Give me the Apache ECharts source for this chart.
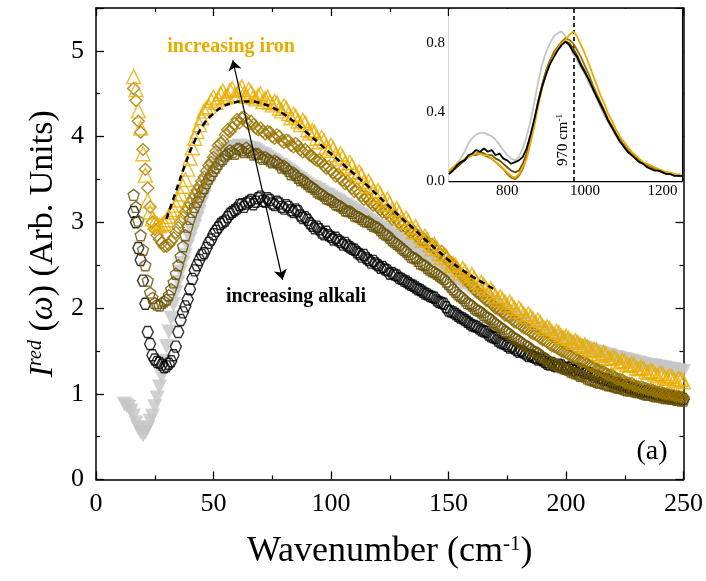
<!DOCTYPE html>
<html>
<head>
<meta charset="utf-8">
<script src="https://cdn.jsdelivr.net/npm/echarts@6.0.0/dist/echarts.min.js"></script>
<style>
  html, body { margin: 0; padding: 0; background: #fff; }
  #chart { width: 706px; height: 581px; }
</style>
</head>
<body>
<div id="chart"></div>
<script>
// Reduced Raman intensity vs wavenumber (cm-1).
// Spectra are sampled on even and odd wavenumbers; each value list follows its wavenumber list.
const wavenumber = [
  12, 14, 16, 18, 20, 22, 24, 26, 28, 30,
  32, 34, 36, 38, 40, 42, 44, 46, 48, 50,
  52, 54, 56, 58, 60, 62, 64, 66, 68, 70,
  72, 74, 76, 78, 80, 82, 84, 86, 88, 90,
  92, 94, 96, 98, 100, 102, 104, 106, 108, 110,
  112, 114, 116, 118, 120, 122, 124, 126, 128, 130,
  132, 134, 136, 138, 140, 142, 144, 146, 148, 150,
  152, 154, 156, 158, 160, 162, 164, 166, 168, 170,
  172, 174, 176, 178, 180, 182, 184, 186, 188, 190,
  192, 194, 196, 198, 200, 202, 204, 206, 208, 210,
  212, 214, 216, 218, 220, 222, 224, 226, 228, 230,
  232, 234, 236, 238, 240, 242, 244, 246, 248, 250
];
const wavenumberOdd = [
  13, 15, 17, 19, 21, 23, 25, 27, 29, 31,
  33, 35, 37, 39, 41, 43, 45, 47, 49, 51,
  53, 55, 57, 59, 61, 63, 65, 67, 69, 71,
  73, 75, 77, 79, 81, 83, 85, 87, 89, 91,
  93, 95, 97, 99, 101, 103, 105, 107, 109, 111,
  113, 115, 117, 119, 121, 123, 125, 127, 129, 131,
  133, 135, 137, 139, 141, 143, 145, 147, 149, 151,
  153, 155, 157, 159, 161, 163, 165, 167, 169, 171,
  173, 175, 177, 179, 181, 183, 185, 187, 189, 191,
  193, 195, 197, 199, 201, 203, 205, 207, 209, 211,
  213, 215, 217, 219, 221, 223, 225, 227, 229, 231,
  233, 235, 237, 239, 241, 243, 245, 247, 249
];

// grey reference glass (filled down-triangles)
const greyGlass = [
  0.88, 0.84, 0.74, 0.60, 0.52, 0.60, 0.74, 0.95, 1.20, 1.55,
  1.88, 2.18, 2.42, 2.62, 2.80, 2.95, 3.12, 3.30, 3.48, 3.63,
  3.73, 3.80, 3.84, 3.86, 3.88, 3.88, 3.87, 3.86, 3.84, 3.80,
  3.78, 3.74, 3.71, 3.67, 3.64, 3.60, 3.56, 3.52, 3.48, 3.44,
  3.41, 3.38, 3.35, 3.32, 3.29, 3.26, 3.23, 3.20, 3.16, 3.13,
  3.09, 3.06, 3.02, 2.98, 2.95, 2.91, 2.88, 2.84, 2.81, 2.78,
  2.74, 2.71, 2.67, 2.64, 2.60, 2.57, 2.53, 2.50, 2.46, 2.43,
  2.37, 2.33, 2.29, 2.26, 2.22, 2.18, 2.14, 2.10, 2.07, 2.03,
  2.00, 1.96, 1.93, 1.90, 1.86, 1.83, 1.80, 1.77, 1.74, 1.71,
  1.70, 1.67, 1.65, 1.62, 1.60, 1.58, 1.56, 1.54, 1.53, 1.51,
  1.49, 1.48, 1.46, 1.45, 1.43, 1.42, 1.40, 1.39, 1.38, 1.36,
  1.35, 1.34, 1.33, 1.32, 1.31, 1.30, 1.29, 1.28, 1.27, 1.26
];
const greyGlassOdd = [
  0.86, 0.80, 0.66, 0.55, 0.55, 0.68, 0.85, 1.08, 1.38, 1.72,
  2.04, 2.30, 2.52, 2.72, 2.88, 3.04, 3.22, 3.40, 3.56, 3.68,
  3.77, 3.82, 3.85, 3.87, 3.89, 3.88, 3.86, 3.85, 3.82, 3.79,
  3.76, 3.72, 3.69, 3.66, 3.62, 3.58, 3.54, 3.50, 3.46, 3.42,
  3.40, 3.37, 3.33, 3.31, 3.27, 3.25, 3.21, 3.18, 3.15, 3.11,
  3.08, 3.04, 3.00, 2.97, 2.93, 2.90, 2.86, 2.83, 2.79, 2.76,
  2.73, 2.69, 2.66, 2.62, 2.59, 2.55, 2.52, 2.48, 2.45, 2.40,
  2.35, 2.31, 2.28, 2.24, 2.20, 2.16, 2.12, 2.09, 2.05, 2.02,
  1.98, 1.95, 1.91, 1.88, 1.85, 1.82, 1.78, 1.76, 1.73, 1.70,
  1.68, 1.66, 1.64, 1.61, 1.59, 1.57, 1.55, 1.54, 1.52, 1.50,
  1.48, 1.47, 1.45, 1.44, 1.42, 1.41, 1.40, 1.38, 1.37, 1.36,
  1.34, 1.33, 1.32, 1.31, 1.30, 1.29, 1.28, 1.27, 1.26
];

// highest alkali content (open hexagons)
const alkaliHex = [
  null, null, 3.12, 2.70, 2.32, 1.72, 1.45, 1.37, 1.34, 1.32,
  1.38, 1.55, 1.86, 2.02, 2.22, 2.44, 2.56, 2.64, 2.76, 2.86,
  2.94, 3.00, 3.06, 3.12, 3.16, 3.21, 3.22, 3.26, 3.24, 3.30,
  3.24, 3.26, 3.20, 3.22, 3.16, 3.18, 3.12, 3.13, 3.05, 3.03,
  2.96, 2.95, 2.88, 2.89, 2.83, 2.82, 2.77, 2.76, 2.71, 2.68,
  2.63, 2.62, 2.56, 2.55, 2.50, 2.48, 2.44, 2.41, 2.38, 2.34,
  2.31, 2.27, 2.24, 2.21, 2.17, 2.14, 2.12, 2.07, 2.05, 1.97,
  1.95, 1.91, 1.88, 1.84, 1.80, 1.78, 1.74, 1.72, 1.67, 1.65,
  1.60, 1.58, 1.54, 1.53, 1.49, 1.48, 1.44, 1.43, 1.40, 1.39,
  1.35, 1.36, 1.32, 1.33, 1.29, 1.31, 1.27, 1.28, 1.24, 1.24,
  1.20, 1.19, 1.16, 1.16, 1.12, 1.12, 1.09, 1.08, 1.06, 1.05,
  1.03, 1.03, 1.01, 1.00, 0.99, 0.98, 0.97, 0.96, 0.95, 0.94
];
const alkaliHexOdd = [
  null, null, 3.00, 2.56, 2.05, 1.58, 1.40, 1.36, 1.31, 1.35,
  1.45, 1.72, 1.95, 2.10, 2.34, 2.50, 2.62, 2.70, 2.80, 2.90,
  2.98, 3.02, 3.10, 3.14, 3.20, 3.18, 3.24, 3.21, 3.28, 3.25,
  3.28, 3.22, 3.24, 3.18, 3.20, 3.14, 3.15, 3.08, 3.06, 2.99,
  2.93, 2.92, 2.86, 2.85, 2.80, 2.79, 2.74, 2.73, 2.69, 2.65,
  2.60, 2.58, 2.53, 2.52, 2.47, 2.45, 2.40, 2.39, 2.35, 2.32,
  2.29, 2.26, 2.22, 2.19, 2.16, 2.13, 2.09, 2.06, 2.01, 1.96,
  1.93, 1.89, 1.86, 1.82, 1.79, 1.76, 1.73, 1.69, 1.66, 1.62,
  1.59, 1.56, 1.55, 1.51, 1.50, 1.46, 1.45, 1.42, 1.41, 1.37,
  1.34, 1.33, 1.34, 1.30, 1.30, 1.28, 1.29, 1.26, 1.25, 1.22,
  1.21, 1.18, 1.17, 1.14, 1.13, 1.10, 1.10, 1.07, 1.06, 1.04,
  1.03, 1.02, 1.01, 0.99, 0.99, 0.97, 0.97, 0.96, 0.95
];

// low iron (open pentagons)
const ironLowPent = [
  null, null, 3.32, 3.02, 2.68, 2.32, 2.12, 2.04, 2.06, 2.10,
  2.22, 2.40, 2.60, 2.85, 3.04, 3.18, 3.30, 3.40, 3.51, 3.60,
  3.68, 3.74, 3.80, 3.82, 3.86, 3.84, 3.87, 3.82, 3.80, 3.76,
  3.76, 3.72, 3.72, 3.68, 3.66, 3.60, 3.58, 3.52, 3.50, 3.45,
  3.41, 3.36, 3.33, 3.28, 3.26, 3.21, 3.19, 3.14, 3.13, 3.08,
  3.06, 3.02, 3.01, 2.96, 2.94, 2.88, 2.85, 2.79, 2.75, 2.70,
  2.66, 2.60, 2.58, 2.52, 2.50, 2.45, 2.42, 2.38, 2.34, 2.28,
  2.22, 2.16, 2.12, 2.06, 2.03, 1.98, 1.95, 1.90, 1.87, 1.82,
  1.78, 1.73, 1.70, 1.65, 1.62, 1.58, 1.55, 1.50, 1.48, 1.43,
  1.40, 1.36, 1.34, 1.31, 1.29, 1.26, 1.24, 1.21, 1.20, 1.17,
  1.15, 1.13, 1.12, 1.10, 1.09, 1.07, 1.06, 1.04, 1.04, 1.02,
  1.01, 0.99, 0.99, 0.97, 0.97, 0.95, 0.95, 0.94, 0.93, 0.92
];
const ironLowPentOdd = [
  null, null, 3.18, 2.85, 2.50, 2.18, 2.06, 2.03, 2.08, 2.15,
  2.30, 2.50, 2.72, 2.95, 3.12, 3.24, 3.36, 3.46, 3.55, 3.64,
  3.72, 3.78, 3.84, 3.80, 3.86, 3.82, 3.84, 3.79, 3.80, 3.74,
  3.74, 3.70, 3.70, 3.64, 3.63, 3.56, 3.55, 3.49, 3.47, 3.42,
  3.39, 3.34, 3.31, 3.27, 3.24, 3.20, 3.17, 3.13, 3.11, 3.07,
  3.04, 3.01, 2.98, 2.95, 2.91, 2.86, 2.82, 2.77, 2.73, 2.68,
  2.63, 2.59, 2.55, 2.51, 2.47, 2.43, 2.40, 2.36, 2.31, 2.25,
  2.19, 2.14, 2.09, 2.05, 2.00, 1.97, 1.92, 1.89, 1.84, 1.80,
  1.76, 1.72, 1.67, 1.64, 1.60, 1.56, 1.52, 1.49, 1.45, 1.42,
  1.38, 1.35, 1.33, 1.30, 1.28, 1.25, 1.23, 1.21, 1.18, 1.16,
  1.14, 1.13, 1.11, 1.10, 1.08, 1.07, 1.05, 1.04, 1.03, 1.02,
  1.00, 0.99, 0.98, 0.97, 0.96, 0.95, 0.94, 0.93, 0.92
];

// medium iron (open diamonds)
const ironMidDiam = [
  null, null, 4.56, 4.18, 3.85, 3.40, 3.00, 2.85, 2.76, 2.72,
  2.78, 2.88, 3.00, 3.12, 3.22, 3.32, 3.42, 3.53, 3.66, 3.76,
  3.90, 3.95, 4.08, 4.10, 4.20, 4.22, 4.17, 4.18, 4.10, 4.10,
  4.03, 4.05, 3.98, 4.00, 3.93, 3.95, 3.88, 3.89, 3.82, 3.82,
  3.77, 3.72, 3.70, 3.63, 3.61, 3.54, 3.52, 3.45, 3.43, 3.36,
  3.34, 3.27, 3.26, 3.20, 3.18, 3.12, 3.11, 3.04, 3.03, 2.96,
  2.94, 2.88, 2.86, 2.80, 2.78, 2.72, 2.70, 2.64, 2.62, 2.55,
  2.50, 2.43, 2.38, 2.31, 2.26, 2.19, 2.15, 2.09, 2.06, 2.00,
  1.98, 1.92, 1.90, 1.84, 1.82, 1.77, 1.75, 1.70, 1.68, 1.63,
  1.61, 1.56, 1.54, 1.50, 1.48, 1.44, 1.42, 1.38, 1.37, 1.33,
  1.31, 1.28, 1.26, 1.22, 1.21, 1.17, 1.16, 1.13, 1.12, 1.09,
  1.08, 1.06, 1.05, 1.03, 1.02, 1.00, 0.99, 0.98, 0.97, 0.96
];
const ironMidDiamOdd = [
  null, null, 4.42, 4.05, 3.62, 3.18, 2.92, 2.80, 2.72, 2.74,
  2.82, 2.94, 3.06, 3.17, 3.27, 3.37, 3.48, 3.60, 3.70, 3.83,
  3.92, 4.02, 4.06, 4.15, 4.16, 4.23, 4.14, 4.14, 4.08, 4.06,
  4.06, 4.00, 4.02, 3.95, 3.96, 3.90, 3.92, 3.85, 3.85, 3.78,
  3.74, 3.73, 3.66, 3.65, 3.58, 3.56, 3.49, 3.48, 3.40, 3.39,
  3.31, 3.30, 3.23, 3.22, 3.15, 3.14, 3.07, 3.07, 3.00, 2.99,
  2.91, 2.90, 2.83, 2.82, 2.75, 2.74, 2.67, 2.66, 2.58, 2.53,
  2.46, 2.41, 2.34, 2.29, 2.22, 2.17, 2.12, 2.08, 2.03, 1.99,
  1.95, 1.91, 1.87, 1.83, 1.79, 1.76, 1.72, 1.69, 1.65, 1.62,
  1.58, 1.55, 1.52, 1.49, 1.46, 1.43, 1.40, 1.38, 1.35, 1.32,
  1.29, 1.27, 1.24, 1.22, 1.19, 1.17, 1.14, 1.12, 1.10, 1.08,
  1.07, 1.05, 1.04, 1.02, 1.01, 1.00, 0.99, 0.97, 0.96
];

// highest iron (open triangles)
const ironHighTri = [
  null, null, 4.70, 4.30, 3.80, 3.25, 3.04, 2.98, 2.97, 3.03,
  3.12, 3.20, 3.33, 3.50, 3.75, 3.98, 4.14, 4.30, 4.35, 4.46,
  4.44, 4.53, 4.47, 4.56, 4.49, 4.58, 4.47, 4.52, 4.44, 4.50,
  4.44, 4.40, 4.41, 4.33, 4.36, 4.27, 4.26, 4.18, 4.19, 4.08,
  4.07, 3.98, 3.99, 3.88, 3.90, 3.79, 3.80, 3.69, 3.70, 3.58,
  3.59, 3.47, 3.48, 3.37, 3.37, 3.26, 3.27, 3.15, 3.16, 3.05,
  3.05, 2.94, 2.95, 2.84, 2.84, 2.74, 2.74, 2.64, 2.63, 2.55,
  2.52, 2.45, 2.46, 2.38, 2.39, 2.30, 2.30, 2.23, 2.22, 2.14,
  2.13, 2.07, 2.07, 2.00, 2.00, 1.93, 1.93, 1.87, 1.86, 1.79,
  1.78, 1.72, 1.73, 1.67, 1.67, 1.62, 1.62, 1.57, 1.57, 1.52,
  1.52, 1.47, 1.48, 1.42, 1.43, 1.38, 1.39, 1.34, 1.35, 1.30,
  1.31, 1.26, 1.27, 1.23, 1.24, 1.19, 1.21, 1.16, 1.18, 1.14
];
const ironHighTriOdd = [
  null, null, 4.55, 4.10, 3.55, 3.12, 3.00, 2.96, 2.99, 3.07,
  3.15, 3.26, 3.42, 3.62, 3.87, 4.06, 4.22, 4.33, 4.42, 4.40,
  4.50, 4.46, 4.54, 4.48, 4.55, 4.50, 4.55, 4.46, 4.48, 4.41,
  4.46, 4.37, 4.39, 4.30, 4.33, 4.22, 4.24, 4.14, 4.16, 4.04,
  4.05, 3.94, 3.95, 3.84, 3.86, 3.74, 3.76, 3.64, 3.66, 3.53,
  3.55, 3.42, 3.43, 3.31, 3.33, 3.21, 3.22, 3.10, 3.11, 3.00,
  3.01, 2.89, 2.90, 2.79, 2.80, 2.69, 2.70, 2.59, 2.60, 2.50,
  2.50, 2.41, 2.43, 2.34, 2.35, 2.26, 2.27, 2.18, 2.19, 2.10,
  2.10, 2.03, 2.04, 1.96, 1.97, 1.90, 1.90, 1.83, 1.83, 1.76,
  1.76, 1.69, 1.71, 1.65, 1.65, 1.60, 1.60, 1.55, 1.55, 1.50,
  1.51, 1.45, 1.46, 1.41, 1.42, 1.36, 1.38, 1.33, 1.34, 1.29,
  1.30, 1.25, 1.26, 1.21, 1.23, 1.18, 1.20, 1.15, 1.17
];

// model fit to the highest-iron spectrum (dashed)
const fitWavenumber = [30, 34, 38, 42, 46, 50, 54, 58, 62, 66, 70, 75, 80, 85, 90, 95, 100, 105, 110, 115, 120, 125, 130, 135, 140, 145, 150, 155, 160, 165, 170];
const fitIntensity  = [3.04, 3.36, 3.68, 3.95, 4.15, 4.27, 4.35, 4.39, 4.41, 4.41, 4.39, 4.34, 4.26, 4.16, 4.04, 3.92, 3.80, 3.68, 3.56, 3.44, 3.31, 3.18, 3.05, 2.93, 2.80, 2.68, 2.56, 2.46, 2.37, 2.29, 2.21];

// high-frequency band (inset)
const insetWavenumber = [
  650, 660, 670, 680, 690, 700, 710, 720, 730, 740,
  750, 760, 770, 780, 790, 800, 810, 820, 830, 840,
  850, 860, 870, 880, 890, 900, 910, 920, 930, 940,
  950, 960, 970, 980, 990, 1000, 1010, 1020, 1030, 1040,
  1050, 1060, 1070, 1080, 1090, 1100, 1110, 1120, 1130, 1140,
  1150, 1160, 1170, 1180, 1190, 1200, 1210, 1220, 1230, 1240,
  1250
];
const insetGrey = [
  0.05, 0.07, 0.10, 0.13, 0.17, 0.22, 0.25, 0.27, 0.28, 0.28,
  0.27, 0.26, 0.24, 0.21, 0.18, 0.15, 0.13, 0.12, 0.14, 0.19,
  0.26, 0.35, 0.46, 0.58, 0.68, 0.75, 0.80, 0.84, 0.86, 0.87,
  0.84, 0.79, 0.74, 0.70, 0.66, 0.62, 0.57, 0.53, 0.48, 0.43,
  0.38, 0.34, 0.30, 0.26, 0.23, 0.20, 0.17, 0.15, 0.13, 0.11,
  0.10, 0.09, 0.08, 0.07, 0.06, 0.05, 0.05, 0.04, 0.04, 0.03,
  0.03
];
const insetAlkali = [
  0.04, 0.06, 0.09, 0.11, 0.12, 0.15, 0.16, 0.18, 0.17, 0.19,
  0.17, 0.18, 0.15, 0.16, 0.13, 0.12, 0.10, 0.11, 0.12, 0.14,
  0.19, 0.27, 0.36, 0.46, 0.55, 0.62, 0.68, 0.72, 0.76, 0.79,
  0.81, 0.79, 0.75, 0.72, 0.67, 0.63, 0.59, 0.54, 0.49, 0.45,
  0.40, 0.35, 0.31, 0.27, 0.23, 0.20, 0.17, 0.15, 0.13, 0.11,
  0.10, 0.08, 0.07, 0.06, 0.06, 0.05, 0.04, 0.04, 0.03, 0.03,
  0.03
];
const insetIronLow = [
  0.04, 0.06, 0.08, 0.10, 0.12, 0.14, 0.15, 0.16, 0.17, 0.16,
  0.15, 0.15, 0.13, 0.12, 0.10, 0.08, 0.06, 0.05, 0.06, 0.10,
  0.16, 0.25, 0.36, 0.47, 0.56, 0.64, 0.70, 0.74, 0.77, 0.80,
  0.81, 0.80, 0.77, 0.73, 0.68, 0.64, 0.59, 0.54, 0.49, 0.44,
  0.40, 0.35, 0.31, 0.27, 0.24, 0.21, 0.18, 0.16, 0.14, 0.12,
  0.10, 0.09, 0.08, 0.07, 0.06, 0.05, 0.05, 0.04, 0.04, 0.03,
  0.03
];
const insetIronMid = [
  0.05, 0.07, 0.09, 0.11, 0.12, 0.14, 0.15, 0.15, 0.16, 0.15,
  0.14, 0.13, 0.11, 0.09, 0.07, 0.04, 0.02, 0.01, 0.03, 0.07,
  0.14, 0.24, 0.35, 0.46, 0.56, 0.64, 0.70, 0.75, 0.78, 0.81,
  0.83, 0.82, 0.80, 0.76, 0.72, 0.67, 0.62, 0.56, 0.51, 0.46,
  0.41, 0.36, 0.32, 0.28, 0.24, 0.21, 0.18, 0.16, 0.14, 0.12,
  0.10, 0.09, 0.08, 0.07, 0.06, 0.05, 0.05, 0.04, 0.04, 0.03,
  0.03
];
const insetIronHigh = [
  0.06, 0.08, 0.10, 0.11, 0.13, 0.14, 0.15, 0.16, 0.16, 0.15,
  0.15, 0.13, 0.11, 0.09, 0.07, 0.05, 0.03, 0.02, 0.04, 0.08,
  0.13, 0.22, 0.32, 0.44, 0.54, 0.62, 0.68, 0.73, 0.77, 0.80,
  0.82, 0.85, 0.87, 0.84, 0.79, 0.74, 0.68, 0.62, 0.56, 0.50,
  0.45, 0.39, 0.35, 0.30, 0.26, 0.23, 0.20, 0.17, 0.15, 0.13,
  0.11, 0.10, 0.09, 0.08, 0.07, 0.06, 0.05, 0.05, 0.04, 0.04,
  0.03
];
const bandPosition = 970;

const xTicks = [0, 50, 100, 150, 200, 250];
const yTicks = [0, 1, 2, 3, 4, 5];
const insetXLabels = [800, 1000, 1200];
const insetYLabels = [0, 0.4, 0.8];

const serif = "'Liberation Serif','Times New Roman',serif";
const GREY = '#c6c6c6', BLACK = '#000000', DARK = '#665000', MID = '#9a7600', GOLD = '#e8ac00';

const hexagon = 'path://M-1,0L-0.5,-0.866L0.5,-0.866L1,0L0.5,0.866L-0.5,0.866Z';
const pentagon = 'path://M0,-1L0.951,-0.309L0.588,0.809L-0.588,0.809L-0.951,-0.309Z';

const pairs = (xs, ys) => xs.map((x, i) => [x, ys[i]]).filter(p => p[1] != null);
const both = (even, odd) => pairs(wavenumber, even).concat(pairs(wavenumberOdd, odd));

function mainAxis(pos, isX, withLabels) {
  const ticks = isX ? xTicks : yTicks;
  return {
    type: 'value', gridIndex: 0, position: pos,
    min: ticks[0], max: isX ? ticks[ticks.length - 1] : 5.5,
    interval: ticks[1] - ticks[0],
    axisLine: { onZero: false, lineStyle: { color: '#000', width: 1.5 } },
    axisTick: { inside: true, length: 8, lineStyle: { color: '#000', width: 1.3 } },
    minorTick: { show: true, splitNumber: 2, length: 4, lineStyle: { color: '#000', width: 1.2 } },
    splitLine: { show: false }, minorSplitLine: { show: false },
    axisLabel: {
      show: withLabels, customValues: ticks,
      fontSize: 26, fontFamily: serif, color: '#000', margin: 12
    }
  };
}

function insetAxis(pos, isX, withLabels) {
  return {
    type: 'value', gridIndex: 1, position: pos,
    min: isX ? 650 : 0, max: isX ? 1250 : 1.0,
    axisLine: { onZero: false, lineStyle: { color: '#000', width: 1.3 } },
    axisTick: {
      inside: true, length: 4, lineStyle: { color: '#000', width: 1 },
      customValues: isX ? [700, 800, 900, 1000, 1100, 1200] : [0.2, 0.4, 0.6, 0.8]
    },
    splitLine: { show: false },
    axisLabel: {
      show: withLabels, fontSize: 15, fontFamily: serif, color: '#000', margin: isX ? 3 : 4,
      customValues: isX ? insetXLabels : insetYLabels,
      formatter: isX ? (v => String(v)) : (v => v.toFixed(1))
    }
  };
}

const xBottom = mainAxis('bottom', true, true);
xBottom.name = '{t|Wavenumber (cm}{s|-1}{t|)}';
xBottom.nameLocation = 'middle';
xBottom.nameGap = 54;
xBottom.nameTextStyle = {
  rich: {
    t: { fontSize: 36, fontFamily: serif, color: '#000' },
    s: { fontSize: 21, fontFamily: serif, color: '#000', verticalAlign: 'top' }
  }
};

const yLeft = mainAxis('left', false, true);
yLeft.name = '{i|I}{s|red}{t| (}{i|ω}{t|) (Arb. Units)}';
yLeft.nameLocation = 'middle';
yLeft.nameRotate = 90;
yLeft.nameGap = 27;
yLeft.nameTextStyle = {
  rich: {
    i: { fontSize: 34, fontFamily: serif, fontStyle: 'italic', color: '#000' },
    s: { fontSize: 20, fontFamily: serif, fontStyle: 'italic', color: '#000', verticalAlign: 'top' },
    t: { fontSize: 34, fontFamily: serif, color: '#000' }
  }
};

function openSeries(name, data, symbol, size, color) {
  return {
    name, type: 'scatter', xAxisIndex: 0, yAxisIndex: 0,
    data, symbol, symbolSize: size,
    itemStyle: { color: 'rgba(0,0,0,0)', borderColor: color, borderWidth: 1.4 }
  };
}

function insetLine(name, ys, color, z) {
  return {
    name, type: 'line', xAxisIndex: 2, yAxisIndex: 2, z,
    data: pairs(insetWavenumber, ys), symbol: 'none', clip: true,
    lineStyle: { color, width: 1.8 }
  };
}

const chart = echarts.init(document.getElementById('chart'), null, { renderer: 'canvas' });
chart.setOption({
  animation: false,
  backgroundColor: '#fff',
  grid: [
    { left: 96, right: 20, top: 8, bottom: 101.5 },
    { left: 449, top: 9, width: 233, height: 172, show: true, backgroundColor: '#fff', borderWidth: 0, z: 5 }
  ],
  xAxis: [
    xBottom,
    mainAxis('top', true, false),
    insetAxis('bottom', true, true),
    insetAxis('top', true, false)
  ],
  yAxis: [
    yLeft,
    mainAxis('right', false, false),
    insetAxis('left', false, true),
    insetAxis('right', false, false)
  ],
  series: [
    {
      name: 'grey', type: 'scatter', xAxisIndex: 0, yAxisIndex: 0,
      data: both(greyGlass, greyGlassOdd), symbol: 'triangle', symbolRotate: 180, symbolSize: 15,
      itemStyle: { color: GREY }
    },
    openSeries('alkali', both(alkaliHex, alkaliHexOdd), hexagon, 11, BLACK),
    openSeries('iron low', both(ironLowPent, ironLowPentOdd), pentagon, 11, DARK),
    openSeries('iron mid', both(ironMidDiam, ironMidDiamOdd), 'diamond', 12, MID),
    openSeries('iron high', both(ironHighTri, ironHighTriOdd), 'triangle', 14, GOLD),
    {
      name: 'fit', type: 'line', xAxisIndex: 0, yAxisIndex: 0,
      data: pairs(fitWavenumber, fitIntensity), symbol: 'none', smooth: true,
      lineStyle: { color: '#000', width: 2.5, type: [6, 4] },
      z: 4,
      markLine: {
        silent: true, symbol: ['arrow', 'arrow'], symbolSize: 10,
        label: { show: false },
        lineStyle: { color: '#000', width: 1.2, type: 'solid' },
        data: [[{ coord: [58.2, 4.89] }, { coord: [79.4, 2.33] }]]
      }
    },
    insetLine('grey', insetGrey, GREY, 6),
    insetLine('iron low', insetIronLow, DARK, 6),
    insetLine('iron mid', insetIronMid, MID, 6),
    insetLine('iron high', insetIronHigh, GOLD, 6),
    Object.assign(insetLine('alkali', insetAlkali, BLACK, 7), {
      markLine: {
        silent: true, symbol: 'none', label: { show: false },
        lineStyle: { color: '#000', width: 1.6, type: [4, 3] },
        data: [{ xAxis: bandPosition }]
      }
    })
  ],
  graphic: [
    { type: 'text', x: 231, y: 47, z: 10,
      style: { text: 'increasing iron', font: 'bold 20px ' + serif, fill: GOLD, align: 'center', verticalAlign: 'middle' } },
    { type: 'text', x: 296, y: 297, z: 10,
      style: { text: 'increasing alkali', font: 'bold 20px ' + serif, fill: '#000', align: 'center', verticalAlign: 'middle' } },
    { type: 'text', x: 652, y: 452, z: 10,
      style: { text: '(a)', font: '28px ' + serif, fill: '#000', align: 'center', verticalAlign: 'middle' } },
    { type: 'text', x: 563, y: 140, z: 20, rotation: Math.PI / 2,
      style: {
        text: '{a|' + bandPosition + ' cm}{b|-1}',
        align: 'center', verticalAlign: 'middle',
        rich: {
          a: { fontSize: 15, fontFamily: serif, fill: '#000' },
          b: { fontSize: 9, fontFamily: serif, fill: '#000', verticalAlign: 'top' }
        }
      } }
  ]
});
</script>
</body>
</html>
